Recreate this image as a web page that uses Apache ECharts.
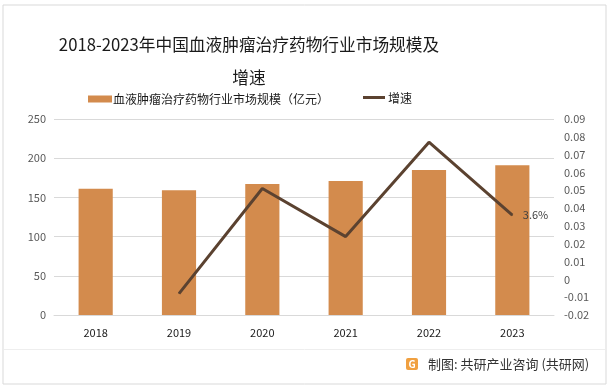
<!DOCTYPE html>
<html><head><meta charset="utf-8">
<script src="https://cdn.jsdelivr.net/npm/echarts@6/dist/echarts.min.js"></script>
<style>html,body{margin:0;padding:0;background:#fff}#c{width:614px;height:392px}</style>
</head><body><div id="c"></div>
<script>
const years = ['2018','2019','2020','2021','2022','2023'];
const marketSize = [161, 159, 167, 171, 185, 191];
const growth = [null, -0.008, 0.051, 0.024, 0.077, 0.036];
const leftTicks = [0, 50, 100, 150, 200, 250];
const rightTicks = [-0.02, -0.01, 0, 0.01, 0.02, 0.03, 0.04, 0.05, 0.06, 0.07, 0.08, 0.09];

const chart = echarts.init(document.getElementById('c'));
const font = '"Noto Sans CJK SC", "Noto Sans", sans-serif';
chart.setOption({
  animation: false,
  textStyle: {fontFamily: font},
  title: {
    text: '2018-2023年中国血液肿瘤治疗药物行业市场规模及\n增速',
    left: 244, top: 23, textAlign: 'center',
    textStyle: {fontSize: 16.7, fontWeight: 'normal', color: '#1a1a1a', lineHeight: 33, fontFamily: font, align: 'center'}
  },
  legend: {
    top: 88, left: 83, itemWidth: 24, itemHeight: 7,
    textStyle: {fontSize: 12, color: '#1a1a1a', fontFamily: font, padding: [0,0,0,-4]},
    data: [
      {name: '血液肿瘤治疗药物行业市场规模（亿元）', icon: 'rect'}
    ]
  },
  grid: {left: 54, right: 60, top: 119, bottom: 77},
  xAxis: {
    type: 'category', data: years,
    axisLine: {lineStyle: {color: '#d9d9d9'}}, axisTick: {show: false},
    axisLabel: {fontSize: 11, color: '#1a1a1a', margin: 12}
  },
  yAxis: [
    {type: 'value', min: leftTicks[0], max: leftTicks[leftTicks.length-1], interval: 50,
     axisLine: {show: false}, axisTick: {show: false},
     axisLabel: {fontSize: 11, color: '#595959', margin: 8},
     splitLine: {lineStyle: {color: '#d9d9d9'}}},
    {type: 'value', min: rightTicks[0], max: rightTicks[rightTicks.length-1], interval: 0.01,
     axisLine: {show: false}, axisTick: {show: false}, splitLine: {show: false},
     axisLabel: {fontSize: 11, color: '#595959', margin: 10,
       formatter: v => String(+v.toFixed(2))}}
  ],
  series: [
    {name: '血液肿瘤治疗药物行业市场规模（亿元）', type: 'bar', data: marketSize,
     barWidth: '41%', itemStyle: {color: '#d38b4d'}},
    {name: '增速', type: 'line', yAxisIndex: 1, data: growth,
     symbol: 'circle', symbolSize: 1, showSymbol: true,
     lineStyle: {color: '#5b4230', width: 3}, itemStyle: {color: '#5b4230'},
     label: {show: true, position: 'right', fontSize: 11, color: '#404040', distance: 10,
       formatter: p => p.dataIndex === growth.length - 1 ? (p.value*100).toFixed(1) + '%' : ''}}
  ],
  graphic: [
    {type: 'rect', shape: {x: 3, y: 5, width: 603, height: 379}, style: {fill: 'none', stroke: '#d9d9d9', lineWidth: 1}, silent: true},
    {type: 'line', shape: {x1: 4, y1: 349.5, x2: 605, y2: 349.5}, style: {stroke: '#eeeeee', lineWidth: 1}, silent: true},
    {type: 'line', shape: {x1: 363, y1: 97.5, x2: 385, y2: 97.5}, style: {stroke: '#5b4230', lineWidth: 3}},
    {type: 'text', x: 388, y: 98, style: {text: '增速', fill: '#1a1a1a', fontSize: 12, verticalAlign: 'middle', fontFamily: font}},
    {type: 'rect', shape: {x: 406, y: 358, width: 12, height: 12, r: 2}, style: {fill: '#f0a040'}},
    {type: 'text', x: 412, y: 364, style: {text: 'G', fill: '#fff', fontSize: 10, fontWeight: 'bold', align: 'center', verticalAlign: 'middle', fontFamily: font}},
    {type: 'text', x: 428, y: 364, style: {text: '制图: 共研产业咨询 (共研网)', fill: '#333', fontSize: 13, verticalAlign: 'middle', fontFamily: font}}
  ]
});
</script></body></html>
